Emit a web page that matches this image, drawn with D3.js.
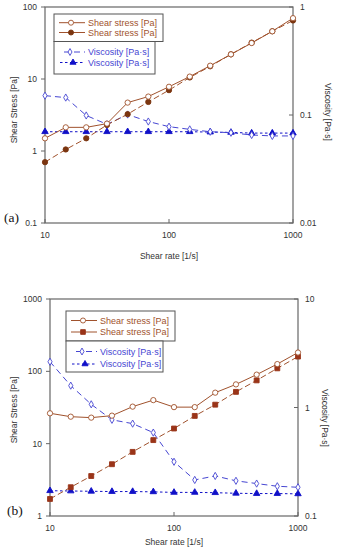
<!DOCTYPE html>
<html><head><meta charset="utf-8">
<script src="https://cdn.jsdelivr.net/npm/d3@7/dist/d3.min.js"></script>
<style>body{margin:0;background:#fff}svg{display:block}</style>
</head><body>
<svg id="c" width="337" height="550"></svg>
<script>
// ---- data ----
const shearRate = [10, 14.7, 21.5, 31.6, 46.4, 68.1, 100, 147, 215, 316, 464, 681, 1000];
// panel (a)
const stressA_open   = [1.5, 2.13, 2.13, 2.4, 4.7, 5.7, 7.8, 10.8, 15.3, 22, 31.6, 46, 70];
const stressA_filled = [0.70, 1.05, 1.5, 2.3, 3.25, 4.8, 7.0, 10.5, 15, 22, 32, 46, 65];
const viscA_open     = [0.151, 0.145, 0.099, 0.082, 0.101, 0.087, 0.078, 0.0736, 0.070, 0.0685, 0.0653, 0.064, 0.064];
const viscA_filled   = [0.070, 0.070, 0.070, 0.070, 0.070, 0.070, 0.070, 0.070, 0.0695, 0.069, 0.068, 0.068, 0.068];
// panel (b)
const stressB_open   = [26.3, 23.6, 22.9, 24.4, 32.5, 40, 32, 32, 50.7, 66, 90, 126, 182];
const stressB_filled = [1.72, 2.5, 3.57, 5.2, 7.7, 11.2, 16.2, 24.2, 34.6, 52, 75, 110, 160];
const viscB_open     = [2.64, 1.59, 1.07, 0.77, 0.71, 0.587, 0.316, 0.215, 0.234, 0.211, 0.199, 0.188, 0.184];
const viscB_filled   = [0.171, 0.170, 0.169, 0.168, 0.168, 0.167, 0.165, 0.165, 0.164, 0.162, 0.161, 0.161, 0.160];
// ticks
const xTicks = [10, 100, 1000];
const leftTicksA = [0.1, 1, 10, 100];
const rightTicksA = [0.01, 0.1, 1];
const leftTicksB = [1, 10, 100, 1000];
const rightTicksB = [0.1, 1, 10];
const legendLabels = ["Shear stress [Pa]", "Shear stress [Pa]", "Viscosity [Pa\u00b7s]", "Viscosity [Pa\u00b7s]"];

const svg = d3.select("#c");
const BROWN = "#a0522d", DARK = "#7b3510", SQ = "#9a3418", BLUE = "#4646d2", TRI = "#1010c8";
const AX = "#666", TXT = "#333";
const F = "'Liberation Sans', Arial, sans-serif";

function sym(g, type, x, y, size, fill, stroke) {
  g.append("path").attr("d", d3.symbol().type(type).size(size)())
    .attr("transform", `translate(${x},${y})`)
    .attr("fill", fill).attr("stroke", stroke).attr("stroke-width", 0.9);
}

function panel(o) {
  const g = svg.append("g");
  const x = d3.scaleLog().domain([10, 1000]).range([o.x0, o.x1]);
  const yl = d3.scaleLog().domain(o.ldom).range([o.y1, o.y0]);
  const yr = d3.scaleLog().domain(o.rdom).range([o.y1, o.y0]);

  // frame
  g.append("rect").attr("x", o.x0).attr("y", o.y0).attr("width", o.x1 - o.x0).attr("height", o.y1 - o.y0)
    .attr("fill", "none").attr("stroke", AX).attr("stroke-width", 1.2);
  // ticks + labels
  xTicks.forEach(t => {
    g.append("line").attr("x1", x(t)).attr("x2", x(t)).attr("y1", o.y1).attr("y2", o.y1 - 4).attr("stroke", AX);
    g.append("text").attr("x", x(t)).attr("y", o.y1 + 15).attr("text-anchor", "middle")
      .attr("font-family", F).attr("font-size", 8.5).attr("fill", TXT).text(t);
  });
  o.lt.forEach(t => {
    g.append("line").attr("x1", o.x0 - 4).attr("x2", o.x0).attr("y1", yl(t)).attr("y2", yl(t)).attr("stroke", AX);
    g.append("text").attr("x", o.x0 - 8).attr("y", yl(t) + 3).attr("text-anchor", "end")
      .attr("font-family", F).attr("font-size", 8.5).attr("fill", TXT).text(t);
  });
  o.rt.forEach(t => {
    g.append("line").attr("x1", o.x1 - 4).attr("x2", o.x1).attr("y1", yr(t)).attr("y2", yr(t)).attr("stroke", AX);
    g.append("text").attr("x", o.x1 + 7).attr("y", yr(t) + 3).attr("text-anchor", "start")
      .attr("font-family", F).attr("font-size", 8.5).attr("fill", TXT).text(t);
  });
  // axis titles
  g.append("text").attr("x", (o.x0 + o.x1) / 2).attr("y", o.y1 + o.tOff).attr("text-anchor", "middle")
    .attr("font-family", F).attr("font-size", 8.5).attr("fill", TXT).text("Shear rate [1/s]");
  g.append("text").attr("transform", `translate(${o.lx},${o.lyc}) rotate(-90)`).attr("text-anchor", "middle")
    .attr("font-family", F).attr("font-size", 8.5).attr("fill", TXT).text("Shear Stress [Pa]");
  g.append("text").attr("transform", `translate(${o.rx},${o.ryc}) rotate(90)`).attr("text-anchor", "middle")
    .attr("font-family", F).attr("font-size", 8.5).attr("fill", TXT).text("Viscosity [Pa\u00b7s]");
  g.append("text").attr("x", o.tagx).attr("y", o.tagy).attr("font-family", "'Liberation Serif', 'Times New Roman', serif")
    .attr("font-size", 13.5).attr("fill", "#111").text(o.tag);

  const ptsL = v => shearRate.map((r, i) => [x(r), yl(v[i])]);
  const ptsR = v => shearRate.map((r, i) => [x(r), yr(v[i])]);
  const line = d3.line();

  // viscosity lines
  g.append("path").attr("d", line(ptsR(o.vf))).attr("fill", "none").attr("stroke", TRI).attr("stroke-width", 1).attr("stroke-dasharray", "2.5,2.5");
  g.append("path").attr("d", line(ptsR(o.vo))).attr("fill", "none").attr("stroke", BLUE).attr("stroke-width", 1).attr("stroke-dasharray", "6,4");
  // stress lines
  g.append("path").attr("d", line(ptsL(o.sf))).attr("fill", "none").attr("stroke", BROWN).attr("stroke-width", 1).attr("stroke-dasharray", "6,3");
  g.append("path").attr("d", line(ptsL(o.so))).attr("fill", "none").attr("stroke", BROWN).attr("stroke-width", 1);

  ptsR(o.vf).forEach(p => sym(g, d3.symbolTriangle, p[0], p[1], 18, TRI, TRI));
  ptsR(o.vo).forEach(p => sym(g, d3.symbolDiamond, p[0], p[1], 15, "#fff", BLUE));
  const fm = o.square ? d3.symbolSquare : d3.symbolCircle;
  ptsL(o.sf).forEach(p => sym(g, fm, p[0], p[1], o.square ? 24 : 22, o.square ? SQ : DARK, o.square ? SQ : DARK));
  ptsL(o.so).forEach(p => sym(g, d3.symbolCircle, p[0], p[1], 22, "#fff", BROWN));

  // legend
  const L = o.leg;
  g.append("rect").attr("x", L.x).attr("y", L.y0).attr("width", L.w1).attr("height", L.y1 - L.y0)
    .attr("fill", "#fff").attr("stroke", "#555").attr("stroke-width", 1);
  g.append("rect").attr("x", L.x).attr("y", L.y1).attr("width", L.w2).attr("height", L.y2 - L.y1)
    .attr("fill", "#fff").attr("stroke", "#555").attr("stroke-width", 1);
  const rows = [
    {y: L.r[0], c: BROWN, dash: null, m: d3.symbolCircle, fill: "#fff", st: BROWN, sz: 20, a: L.ls, b: L.le, mx: L.mx},
    {y: L.r[1], c: BROWN, dash: null, m: fm, fill: o.square ? SQ : DARK, st: o.square ? SQ : DARK, sz: o.square ? 22 : 20, a: L.ls, b: L.le, mx: L.mx},
    {y: L.r[2], c: BLUE, dash: "6,4", m: d3.symbolDiamond, fill: "#fff", st: BLUE, sz: 14, a: L.ls + 5, b: L.le, mx: L.mx - 1},
    {y: L.r[3], c: TRI, dash: "2.5,2.5", m: d3.symbolTriangle, fill: TRI, st: TRI, sz: 16, a: L.ls + 1, b: L.le, mx: L.mx + 2}
  ];
  rows.forEach((r, i) => {
    const ln = g.append("line").attr("x1", r.a).attr("x2", r.b).attr("y1", r.y).attr("y2", r.y)
      .attr("stroke", r.c).attr("stroke-width", 1);
    if (r.dash) ln.attr("stroke-dasharray", r.dash);
    sym(g, r.m, r.mx, r.y, r.sz, r.fill, r.st);
    g.append("text").attr("x", L.tx).attr("y", r.y + 3.2).attr("font-family", F).attr("font-size", 9)
      .attr("fill", i < 2 ? BROWN : BLUE).text(legendLabels[i]);
  });
}

panel({
  x0: 45, x1: 293, y0: 7, y1: 223, ldom: [0.1, 100], rdom: [0.01, 1],
  lt: leftTicksA, rt: rightTicksA, so: stressA_open, sf: stressA_filled, vo: viscA_open, vf: viscA_filled,
  square: false, lx: 17, lyc: 110, rx: 325, ryc: 112, tag: "(a)", tagx: 4, tagy: 222, tOff: 36,
  leg: {x: 54, y0: 14, y1: 41.5, y2: 74, w1: 109, w2: 101, r: [22.7, 32.5, 52, 62.5], ls: 59, le: 85, mx: 71, tx: 88}
});
panel({
  x0: 50, x1: 298, y0: 299, y1: 516, ldom: [1, 1000], rdom: [0.1, 10],
  lt: leftTicksB, rt: rightTicksB, so: stressB_open, sf: stressB_filled, vo: viscB_open, vf: viscB_filled,
  square: true, lx: 17, lyc: 410, rx: 322, ryc: 418, tag: "(b)", tagx: 7, tagy: 515, tOff: 29,
  leg: {x: 66, y0: 311, y1: 341, y2: 372, w1: 109, w2: 97, r: [320.5, 332, 351.5, 364], ls: 71, le: 97, mx: 83, tx: 100}
});
</script>
</body></html>
